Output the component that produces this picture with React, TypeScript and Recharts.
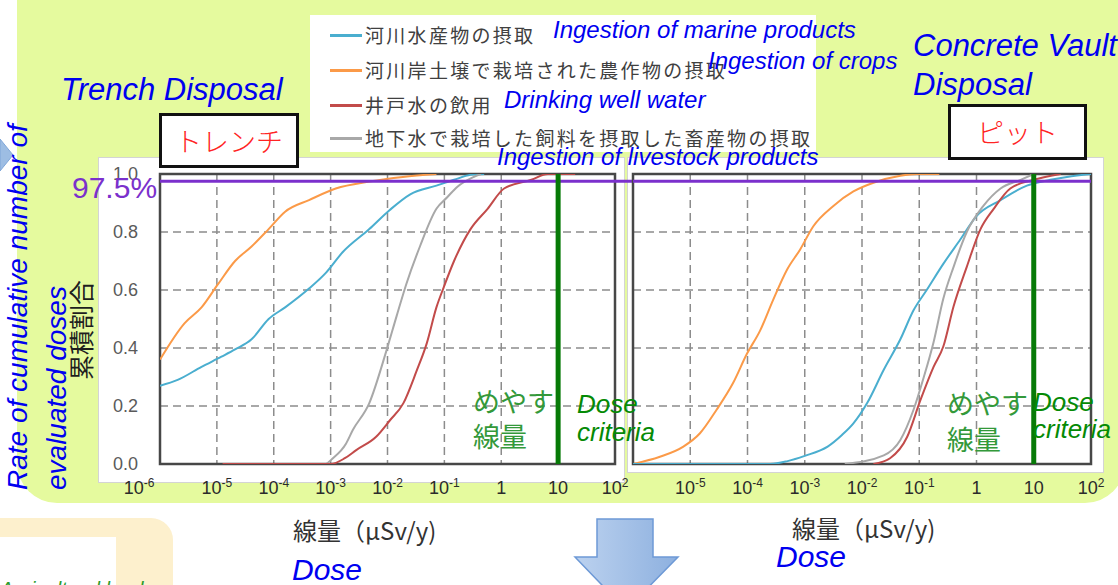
import { CartesianGrid, Line, LineChart, ReferenceArea, ReferenceLine, XAxis, YAxis } from "recharts";

type Pt = [number, number];

// [log10 of dose in µSv/y, cumulative fraction]
const trenchMarine: Pt[] = [
  [-6, 0.27], [-5.69, 0.29], [-5.27, 0.335], [-4.92, 0.37], [-4.68, 0.395], [-4.39, 0.43],
  [-4.09, 0.5], [-3.8, 0.54], [-3.38, 0.605], [-3.08, 0.66], [-2.79, 0.73], [-2.32, 0.81],
  [-1.96, 0.876], [-1.6, 0.93], [-1.14, 0.96], [-0.83, 0.98], [-0.54, 0.997], [-0.3, 1.0],
];
const trenchCrops: Pt[] = [
  [-6, 0.36], [-5.57, 0.485], [-5.27, 0.54], [-4.98, 0.62], [-4.68, 0.7], [-4.39, 0.75],
  [-4.09, 0.81], [-3.8, 0.87], [-3.38, 0.91], [-2.91, 0.95], [-2.32, 0.974], [-1.73, 0.99],
  [-1.14, 1.0],
];
const trenchWell: Pt[] = [
  [-4.9, 0], [-3.0, 0], [-2.75, 0.02], [-2.55, 0.048], [-2.2, 0.094], [-1.96, 0.15],
  [-1.72, 0.21], [-1.49, 0.32], [-1.31, 0.416], [-1.14, 0.54], [-1.01, 0.61], [-0.83, 0.7],
  [-0.54, 0.81], [-0.24, 0.88], [0.05, 0.95], [0.53, 0.98], [0.82, 1.0], [1.3, 1.0],
];
const trenchLivestock: Pt[] = [
  [-3.8, 0], [-3.1, 0], [-2.96, 0.02], [-2.73, 0.07], [-2.61, 0.117], [-2.32, 0.21],
  [-2.02, 0.39], [-1.84, 0.51], [-1.67, 0.62], [-1.43, 0.75], [-1.14, 0.88], [-0.95, 0.92],
  [-0.77, 0.956], [-0.48, 0.99], [-0.36, 1.0],
];

const pitMarine: Pt[] = [
  [-6, 0], [-3.6, 0], [-3.3, 0.01], [-3.0, 0.028], [-2.6, 0.06], [-2.35, 0.1], [-2.15, 0.14],
  [-1.91, 0.21], [-1.62, 0.325], [-1.33, 0.43], [-1.1, 0.53], [-0.87, 0.6], [-0.58, 0.69],
  [-0.28, 0.775], [0.0, 0.855], [0.42, 0.91], [0.88, 0.96], [1.29, 0.98], [1.58, 0.99], [2.0, 1.0],
];
const pitCrops: Pt[] = [
  [-6, 0], [-5.53, 0.025], [-5.12, 0.06], [-4.83, 0.106], [-4.54, 0.187], [-4.25, 0.28],
  [-4.01, 0.38], [-3.78, 0.46], [-3.55, 0.567], [-3.31, 0.67], [-3.08, 0.74], [-2.85, 0.82],
  [-2.5, 0.89], [-2.15, 0.94], [-1.8, 0.97], [-1.33, 0.994], [-1.04, 1.0], [-0.65, 1.0],
];
const pitWell: Pt[] = [
  [-1.8, 0], [-1.51, 0.02], [-1.21, 0.094], [-0.98, 0.22], [-0.75, 0.335], [-0.58, 0.405],
  [-0.4, 0.544], [-0.17, 0.68], [0.07, 0.81], [0.3, 0.88], [0.59, 0.95], [1.0, 0.98], [1.47, 1.0],
];
const pitLivestock: Pt[] = [
  [-2.3, 0], [-1.62, 0.03], [-1.33, 0.083], [-1.1, 0.187], [-0.92, 0.3], [-0.75, 0.42],
  [-0.58, 0.57], [-0.4, 0.68], [-0.17, 0.8], [0.12, 0.89], [0.42, 0.95], [0.77, 0.98], [1.0, 1.0],
];

const decadeTicks = [-6, -5, -4, -3, -2, -1, 0, 1, 2];
const fractionTicks = [0, 0.2, 0.4, 0.6, 0.8, 1.0];
const percentile = 0.975;
const criterionExp = 1; // 10 µSv/y

const seriesNames = [
  "河川水産物の摂取",
  "河川岸土壌で栽培された農作物の摂取",
  "井戸水の飲用",
  "地下水で栽培した飼料を摂取した畜産物の摂取",
];

const BLUE = "#4aaecf";
const ORANGE = "#fb9a48";
const RED = "#c24b4a";
const GRAY = "#a8a8a8";
const seriesColors = [BLUE, ORANGE, RED, GRAY];

const SANS = "'Liberation Sans', Arial, sans-serif";
const NARROW = "'Liberation Sans Narrow', 'Liberation Sans', Arial, sans-serif";
const JP = "'Noto Sans CJK JP', sans-serif";
const INK_BLUE = "#0000f0";
const PURPLE = "#7b30cc";

const toData = (pts: Pt[]) => pts.map(([x, y]) => ({ x, y }));

function powLabel(v: number) {
  if (v === 0) return "1";
  if (v === 1) return "10";
  return null;
}

type ChartProps = {
  marine: Pt[];
  crops: Pt[];
  well: Pt[];
  livestock: Pt[];
  trench: boolean;
};

function DoseChart({ marine, crops, well, livestock, trench }: ChartProps) {
  const renderTick = (p: any) => {
    const v = p.payload.value as number;
    if (!trench && v === -6) return <g />;
    const dx = trench && v === -6 ? -21 : 0;
    const plain = powLabel(v);
    return (
      <text x={p.x + dx} y={p.y + 22} textAnchor="middle" fill="#2b2b2b" fontSize={18} fontFamily={NARROW}>
        {plain ?? (
          <>
            10<tspan dy={-7} fontSize={12}>{v}</tspan>
          </>
        )}
      </text>
    );
  };
  return (
    <LineChart
      width={trench ? 545 : 490}
      height={350}
      margin={trench ? { top: 17, right: 28, left: 0, bottom: 13 } : { top: 17, right: 26, left: 6, bottom: 13 }}
    >
      <CartesianGrid strokeDasharray="8 5" stroke="#8c8c8c" strokeWidth={1.5} />
      <XAxis
        type="number"
        dataKey="x"
        domain={[-6, 2]}
        ticks={decadeTicks}
        interval={0}
        allowDataOverflow
        axisLine={false}
        tickLine={false}
        height={30}
        tick={renderTick}
      />
      <YAxis
        type="number"
        domain={[0, 1]}
        ticks={fractionTicks}
        allowDataOverflow
        hide={!trench}
        width={trench ? 62 : 0}
        axisLine={false}
        tickLine={false}
        tickMargin={16}
        tick={{ fill: "#5a5a5a", fontSize: 18, fontFamily: SANS }}
        tickFormatter={(v: number) => v.toFixed(1)}
      />
      <Line data={toData(crops)} dataKey="y" type="monotone" stroke={ORANGE} strokeWidth={2} dot={false} isAnimationActive={false} />
      <Line data={toData(marine)} dataKey="y" type="monotone" stroke={BLUE} strokeWidth={2} dot={false} isAnimationActive={false} />
      <Line data={toData(livestock)} dataKey="y" type="monotone" stroke={GRAY} strokeWidth={2} dot={false} isAnimationActive={false} />
      <Line data={toData(well)} dataKey="y" type="monotone" stroke={RED} strokeWidth={2} dot={false} isAnimationActive={false} />
      <ReferenceArea x1={-6} x2={2} y1={0} y2={1} fill="none" stroke="#474747" strokeWidth={2.5} />
      {trench ? (
        <ReferenceLine
          segment={[{ x: -6, y: percentile }, { x: 2.3, y: percentile }]}
          ifOverflow="visible"
          stroke={PURPLE}
          strokeWidth={3}
        />
      ) : (
        <ReferenceLine y={percentile} stroke={PURPLE} strokeWidth={3} />
      )}
      <ReferenceLine x={criterionExp} stroke="#077a07" strokeWidth={5} />
    </LineChart>
  );
}

type TProps = {
  x: number;
  y: number;
  size: number;
  color: string;
  italic?: boolean;
  jp?: boolean;
  spacing?: number;
  children: React.ReactNode;
};

function T({ x, y, size, color, italic, jp, spacing, children }: TProps) {
  return (
    <div
      style={{
        position: "absolute",
        left: x,
        top: y - size * 0.6,
        fontSize: size,
        lineHeight: `${size * 1.2}px`,
        color,
        fontStyle: italic ? "italic" : "normal",
        fontFamily: jp ? JP : SANS,
        letterSpacing: spacing,
        whiteSpace: "nowrap",
      }}
    >
      {children}
    </div>
  );
}

function Rotated({ x, y, size, color, italic, jp, children }: TProps) {
  return (
    <div
      style={{
        position: "absolute",
        left: x,
        top: y,
        transform: "rotate(-90deg)",
        transformOrigin: "0 0",
        fontSize: size,
        lineHeight: `${size * 1.15}px`,
        color,
        fontStyle: italic ? "italic" : "normal",
        fontFamily: jp ? JP : SANS,
        whiteSpace: "nowrap",
      }}
    >
      {children}
    </div>
  );
}

const legendRows = [35, 70, 105, 138];

export default function App() {
  return (
    <div style={{ position: "fixed", left: 0, top: 0, width: 1118, height: 585, overflow: "hidden", background: "#fff" }}>
      {/* slide background */}
      <div style={{ position: "absolute", left: 17, top: -50, width: 1108, height: 553, borderRadius: 40, background: "#e5fa9e" }} />
      <svg style={{ position: "absolute", left: 0, top: 136 }} width={16} height={40}>
        <polygon points="0,3 13,19 0,35" fill="#9dbde3" stroke="#7fa6d8" />
      </svg>

      {/* chart panels */}
      <div style={{ position: "absolute", left: 98, top: 157, width: 527, height: 326, background: "#fff", border: "1px solid #d4d4d4", boxSizing: "border-box" }} />
      <div style={{ position: "absolute", left: 627, top: 157, width: 477, height: 316, background: "#fff", border: "1px solid #d4d4d4", boxSizing: "border-box" }} />
      <div style={{ position: "absolute", left: 98, top: 157 }}>
        <DoseChart marine={trenchMarine} crops={trenchCrops} well={trenchWell} livestock={trenchLivestock} trench />
      </div>
      <div style={{ position: "absolute", left: 627, top: 157 }}>
        <DoseChart marine={pitMarine} crops={pitCrops} well={pitWell} livestock={pitLivestock} trench={false} />
      </div>

      {/* legend */}
      <div style={{ position: "absolute", left: 310, top: 15, width: 506, height: 137, background: "#fff" }} />
      {seriesNames.map((name, i) => (
        <div key={name}>
          <div style={{ position: "absolute", left: 330, top: legendRows[i] - 1.5, width: 32, height: 3, background: seriesColors[i] }} />
          <T x={365} y={legendRows[i]} size={19} color="#404040" jp spacing={2.3}>{name}</T>
        </div>
      ))}
      <T x={553} y={30} size={24} color={INK_BLUE} italic>Ingestion of marine products</T>
      <T x={708} y={61} size={24} color={INK_BLUE} italic>Ingestion of crops</T>
      <T x={504} y={100} size={24} color={INK_BLUE} italic>Drinking well water</T>
      <T x={497} y={157} size={24} color={INK_BLUE} italic>Ingestion of livestock products</T>

      {/* titles */}
      <T x={61} y={90} size={31} color={INK_BLUE} italic>Trench Disposal</T>
      <T x={913} y={46} size={31} color={INK_BLUE} italic>Concrete Vault</T>
      <T x={913} y={85} size={31} color={INK_BLUE} italic>Disposal</T>
      <div style={{ position: "absolute", left: 159, top: 113, width: 140, height: 55, boxSizing: "border-box", border: "3px solid #111", background: "#fff", color: "#ff2424", fontFamily: JP, fontSize: 27, lineHeight: "49px", textAlign: "center", fontWeight: 300 }}>トレンチ</div>
      <div style={{ position: "absolute", left: 948, top: 104, width: 139, height: 56, boxSizing: "border-box", border: "3px solid #111", background: "#fff", color: "#ff2424", fontFamily: JP, fontSize: 27, lineHeight: "50px", textAlign: "center", fontWeight: 300 }}>ピット</div>

      {/* y axis labels */}
      <Rotated x={2} y={490} size={28} color={INK_BLUE} italic>Rate of cumulative number of</Rotated>
      <Rotated x={41} y={490} size={28} color={INK_BLUE} italic>evaluated doses</Rotated>
      <Rotated x={66} y={380} size={25} color="#1e1e1e" jp>累積割合</Rotated>
      <T x={72} y={188} size={30} color={PURPLE}>97.5%</T>

      {/* dose criteria annotations */}
      <T x={473} y={401} size={27} color="#33993a" jp>めやす</T>
      <T x={473} y={436} size={27} color="#33993a" jp>線量</T>
      <T x={577} y={405} size={26} color="#058a05" italic>Dose</T>
      <T x={577} y={433} size={26} color="#058a05" italic>criteria</T>
      <T x={947} y={403} size={27} color="#33993a" jp>めやす</T>
      <T x={947} y={439} size={27} color="#33993a" jp>線量</T>
      <T x={1033} y={403} size={26} color="#058a05" italic>Dose</T>
      <T x={1033} y={430} size={26} color="#058a05" italic>criteria</T>

      {/* x axis titles */}
      <T x={293} y={530} size={24} color="#333" jp>線量（μSv/y)</T>
      <T x={792} y={528} size={24} color="#333" jp>線量（μSv/y)</T>
      <T x={292} y={570} size={30} color={INK_BLUE} italic>Dose</T>
      <T x={776} y={557} size={30} color={INK_BLUE} italic>Dose</T>

      {/* lower slide decorations */}
      <svg style={{ position: "absolute", left: 570, top: 515 }} width={115} height={75}>
        <defs>
          <linearGradient id="arrowFill" x1="0" x2="1" y1="0" y2="0">
            <stop offset="0" stopColor="#bcd2ef" />
            <stop offset="1" stopColor="#8db0df" />
          </linearGradient>
        </defs>
        <polygon points="27,4 83,4 83,42 108,42 56,95 5,42 27,42" fill="url(#arrowFill)" stroke="#6d99d6" strokeWidth={1.5} />
      </svg>
      <div style={{ position: "absolute", left: -30, top: 518, width: 203, height: 100, borderRadius: 22, background: "#fdf0cd" }} />
      <div style={{ position: "absolute", left: 0, top: 537, width: 116, height: 60, background: "#fff" }} />
      <T x={0} y={589} size={20} color="#2c9c2c" italic>Agricultural land</T>
    </div>
  );
}
